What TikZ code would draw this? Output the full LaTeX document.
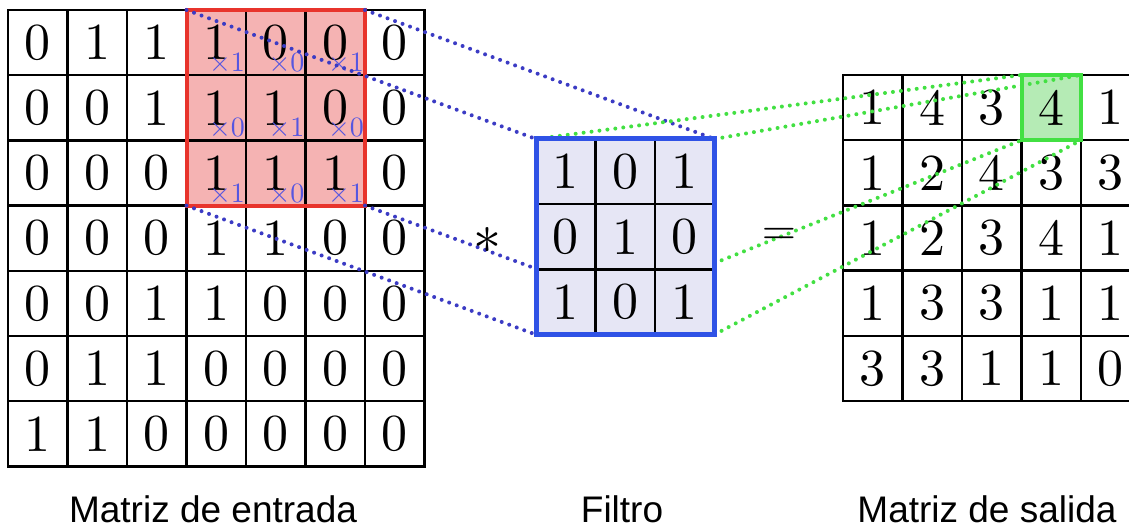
\documentclass[tikz,border=0pt]{standalone}
\usepackage{fontspec}
\newfontfamily\capfont{Liberation Sans}
\newfontfamily\cellfont{lmroman10-regular.otf}
\usetikzlibrary{positioning}

\definecolor{redfill}{HTML}{F5B3B3}
\definecolor{redline}{HTML}{E8342C}
\definecolor{filtfill}{HTML}{E6E6F5}
\definecolor{filtline}{HTML}{2F52E6}
\definecolor{greenfill}{HTML}{B5EBB5}
\definecolor{greenline}{HTML}{42E042}
\definecolor{dotblue}{HTML}{3B3BC4}
\definecolor{multblue}{HTML}{5656E0}

\pgfdeclarelayer{bg}
\pgfdeclarelayer{front}
\pgfsetlayers{bg,main,front}

\begin{document}
\begin{tikzpicture}[x=0.5pt, y=-0.5pt,
  cell/.style={draw, line width=1.2pt, minimum width=29.75pt, minimum height=32.6pt, inner sep=0pt, outer sep=0pt, font=\cellfont\fontsize{26}{28}\selectfont},
  mult/.style={anchor=south east, inner sep=0.4pt, text=multblue, font=\fontsize{10}{10}\selectfont},
  oper/.style={font=\fontsize{10}{12}\selectfont},
  caption/.style={anchor=base, font=\capfont\fontsize{18.5}{20}\selectfont},
  dotline/.style={line width=2pt, dash pattern=on 0pt off 4pt, line cap=round}]
\useasboundingbox (0,0) rectangle (1129,529);
\clip (0,0) rectangle (1129,529);
\begin{pgfonlayer}{bg}
\fill[white] (0,0) rectangle (1129,529);
\end{pgfonlayer}

% Input matrix
\foreach \row [count=\r] in {{0,1,1,1,0,0,0},{0,0,1,1,1,0,0},{0,0,0,1,1,1,0},{0,0,0,1,1,0,0},{0,0,1,1,0,0,0},{0,1,1,0,0,0,0},{1,1,0,0,0,0,0}} {
  \foreach \v [count=\c] in \row {
    \node[cell] (in-\r-\c) at ({8+59.5*(\c-0.5)}, {10+65.2*(\r-0.5)}) {\v};
  }
}
\begin{pgfonlayer}{bg}
\fill[redfill] (in-1-4.north west) rectangle (in-3-6.south east);
\end{pgfonlayer}
\foreach \row [count=\r] in {{1,0,1},{0,1,0},{1,0,1}} {
  \foreach \m [count=\k] in \row {
    \pgfmathtruncatemacro{\c}{\k+3}
    \node[mult] (mul-\r-\c) at (in-\r-\c.south east) {\scalebox{1.4}{$\times\m$}};
  }
}
\draw[redline, line width=2pt] (in-1-4.north west) rectangle (in-3-6.south east);

% Output matrix
\foreach \row [count=\r] in {{1,4,3,4,1},{1,2,4,3,3},{1,2,3,4,1},{1,3,3,1,1},{3,3,1,1,0}} {
  \foreach \v [count=\c] in \row {
    \node[cell] (out-\r-\c) at ({843+59.5*(\c-0.5)}, {75+65.2*(\r-0.5)}) {\v};
  }
}
\begin{pgfonlayer}{bg}
\fill[greenfill] (out-1-4.north west) rectangle (out-1-4.south east);
\end{pgfonlayer}
\draw[greenline, line width=2pt] (out-1-4.north west) rectangle (out-1-4.south east);

% Filter (on top of the dotted lines)
\begin{pgfonlayer}{front}
\foreach \row [count=\r] in {{1,0,1},{0,1,0},{1,0,1}} {
  \foreach \v [count=\c] in \row {
    \node[cell, fill=filtfill] (f-\r-\c) at ({536+59.5*(\c-0.5)}, {139+65.2*(\r-0.5)}) {\v};
  }
}
\draw[filtline, line width=2.5pt] (f-1-1.north west) rectangle (f-3-3.south east);
\end{pgfonlayer}

% Dotted projections
\draw[dotline, dotblue] (in-1-4.north west) -- (f-1-1.north west);
\draw[dotline, dotblue] (in-1-6.north east) -- (f-1-3.north east);
\draw[dotline, dotblue] (in-3-4.south west) -- (f-3-1.south west);
\draw[dotline, dotblue] (in-3-6.south east) -- (f-3-3.south east);
\draw[dotline, greenline] (f-1-1.north west) -- (out-1-4.north west);
\draw[dotline, greenline] (f-1-3.north east) -- (out-1-4.north east);
\draw[dotline, greenline] (f-3-1.south west) -- (out-1-4.south west);
\draw[dotline, greenline] (f-3-3.south east) -- (out-1-4.south east);

% Operators and captions
\node[oper] (conv) at (487,240) {\scalebox{2.8}{$\ast$}};
\node[oper] (eq) at (779,236) {\scalebox{2.2}{$=$}};
\node[caption] (cap-in) at (213,522) {Matriz de entrada};
\node[caption] (cap-filt) at (622,522) {Filtro};
\node[caption] (cap-out) at (987,522) {Matriz de salida};
\end{tikzpicture}
\end{document}
